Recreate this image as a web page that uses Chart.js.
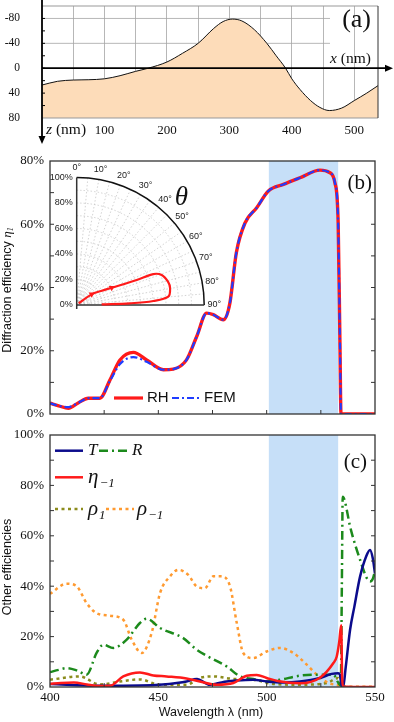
<!DOCTYPE html>
<html>
<head>
<meta charset="utf-8">
<script src="https://cdn.jsdelivr.net/npm/chart.js@4.4.0/dist/chart.umd.min.js"></script>
<style>
  html, body { margin: 0; padding: 0; background: #fff; }
  body { width: 394px; height: 722px; position: relative; overflow: hidden; }
  canvas { position: absolute; }
</style>
</head>
<body>
<canvas id="chartA" width="394" height="145" style="left:0;top:0"></canvas>
<canvas id="chartB" width="394" height="280" style="left:0;top:140px"></canvas>
<canvas id="chartInset" width="190" height="160" style="left:40px;top:160px"></canvas>
<canvas id="chartC" width="394" height="302" style="left:0;top:420px"></canvas>
<script>
// ---- panel (a): grating surface profile ----
const profX = [0, 25, 50, 75, 100, 125, 150, 170, 200, 225, 250, 275, 290, 305, 320, 340, 360, 375, 390, 400, 413, 430, 445, 460, 480, 500, 520, 538];
const profZ = [27, 21, 19, 18.5, 17, 12, 5, 0, -10, -24, -40, -64, -75, -79, -76, -62, -40, -20, 0, 17, 34, 52, 63, 68, 64, 52, 40, 28];
const profXTicks = [50, 100, 150, 200, 250, 300, 350, 400, 450, 500];
const profZTicks = [-80, -40, 0, 40, 80];
const profZGrid = [-80, -40];

// ---- panel (b): first order diffraction efficiency ----
const lamB = [400, 404, 408.5, 413, 417.7, 423, 427.7, 432.3, 438.5, 444.6, 452.3, 456.9, 463, 467.7, 472.3, 475.4, 480, 483, 486, 490, 495.4, 500.8, 507.7, 515.4, 524.6, 529.2, 531.5, 533, 533.8, 534.3, 540, 550];
const rhB  = [3.4, 2.6, 1.8, 3.5, 5.0, 5.0, 10.8, 17.1, 19.5, 17.1, 14, 14.2, 17.1, 24.5, 31.9, 31.4, 29.8, 35, 51, 60.4, 65.2, 70.5, 72.6, 74.7, 77.1, 76.3, 73.1, 60.4, 23.5, 0, 0, 0];
const femB = [3.4, 2.6, 2.2, 3.5, 5.0, 5.0, 10.5, 15.8, 18.0, 16.5, 14, 14.2, 17.1, 24.5, 31.9, 31.4, 29.8, 35, 51, 60.4, 65.2, 70.5, 72.6, 74.7, 77.1, 76.3, 73.1, 60.4, 23.5, 0, 0, 0];
const bandStart = 501;
const bandEnd = 533;

// ---- inset: efficiency vs diffraction angle ----
const polAng = [50, 54.5, 60, 63.7, 67.4, 68, 70.6, 76, 79.9, 84.8, 87, 88.2, 88.4];
const polEta = [2, 14.4, 22, 30.6, 51, 64.8, 70.7, 74, 74.4, 72.1, 60.2, 41.8, 19.6];
const polArrow = [0, 1, 0, 1, 0, 0, 0, 0, 0, 0, 0, 0, 0];

// ---- panel (c): other efficiencies ----
const lamT = [400, 423, 441.5, 452, 458.5, 463, 467.7, 473.8, 478, 481.5, 486, 493.8, 500, 508, 515.4, 524.6, 530, 533, 533.8, 534.6, 535.4, 536.5, 538.5, 540.5, 543.1, 546, 547.7, 549, 550];
const valT = [1.2, 0.5, 0.6, 1.0, 1.6, 2.2, 3.2, 0.9, 1.6, 2.2, 2.6, 2.9, 2.2, 1.8, 2.2, 3.6, 5.2, 5.5, 4.9, 0.3, 0.5, 8, 22.7, 32, 43.8, 52, 54.4, 51, 45];
const lamR = [400, 404, 407.7, 412.3, 416.9, 421.5, 424.6, 429.2, 435.4, 441.5, 444.6, 450.8, 461.5, 467.7, 472.3, 481.5, 487.7, 493.8, 500, 506.2, 515.4, 524.6, 530.8, 533.1, 534.2, 534.7, 535.1, 536, 538.5, 541, 543.1, 546.2, 547.7, 549, 550];
const valR = [5.9, 6.8, 7.5, 6.6, 4.9, 13.5, 16.8, 15.5, 18.8, 25.4, 27.1, 23.4, 19.4, 14.8, 12.4, 8.2, 4.2, 3.2, 2.2, 2.9, 4.5, 4.9, 4.9, 1.6, 0.5, 40, 75.5, 74, 63.7, 56, 50.5, 43.2, 41.9, 43, 46];
const lamE = [400, 405, 411, 417, 422, 427.7, 433.8, 441.5, 447.7, 453.8, 463, 469.2, 476.9, 484.6, 490.8, 495.4, 500, 505, 515.4, 524.6, 530.8, 532.3, 533.5, 534.4, 534.8, 535.2, 540, 550];
const valE = [1.2, 1.6, 1.8, 1.0, 0.4, 0.5, 4.2, 5.8, 4.6, 4.2, 3.4, 2.2, 0.9, 1.6, 4.5, 4.8, 3.6, 2.4, 1.5, 3.7, 9.5, 12, 18, 24.5, 5, 0.2, 0, 0];
const lamP1 = [400, 413.8, 423, 432.3, 441.5, 450.8, 463, 469.2, 475.4, 484.6, 493.8, 503, 515.4, 527.7, 533.1, 534.6, 540, 550];
const valP1 = [2.9, 4.2, 1.0, 2.2, 3.0, 0.9, 0.9, 3.6, 4.2, 3.2, 2.9, 1.2, 0.9, 1.6, 3.6, 0.3, 0, 0];
const lamPm = [400, 407.7, 412.3, 416.9, 421.5, 427.7, 433.8, 437.7, 442.3, 446.9, 450.8, 455.4, 459.2, 463.8, 467.7, 471.5, 475.4, 479.2, 483.1, 486.2, 489.2, 493.8, 500, 506.2, 512.3, 518.5, 523.1, 528.5, 533.8, 535, 540, 550];
const valPm = [37, 41, 40, 33.3, 29.3, 28.3, 26.7, 18.8, 13.5, 21.4, 37.3, 43.9, 46.5, 44.5, 39.9, 39.2, 43.9, 43.9, 39.9, 25.4, 13.5, 11.5, 14.1, 15.5, 13.5, 8.9, 4.9, 1.6, 0.5, 0, 0, 0];

const SERIF = '"Liberation Serif", "Times New Roman", serif';
const SANS = '"Liberation Sans", Arial, sans-serif';
const BAND = '#c6dff8';

const pts = (xs, ys) => xs.map((x, i) => ({ x: x, y: ys[i] }));

// fixed axis sizes; drop the label overhang padding Chart.js adds
const fixWidth = w => s => { s.width = w; s.paddingTop = 0; s.paddingBottom = 0; };
const fixHeight = h => s => { s.height = h; s.paddingLeft = 0; s.paddingRight = 0; };

function series(xs, ys, color, width, dash) {
    return {
        data: pts(xs, ys),
        borderColor: color,
        borderWidth: width,
        borderDash: dash || [],
        pointRadius: 0,
        fill: false,
        cubicInterpolationMode: 'monotone'
    };
}

function legendLine(ctx, x1, x2, y, color, width, dash) {
    ctx.save();
    ctx.strokeStyle = color;
    ctx.lineWidth = width;
    ctx.setLineDash(dash || []);
    ctx.beginPath();
    ctx.moveTo(x1, y);
    ctx.lineTo(x2, y);
    ctx.stroke();
    ctx.restore();
}

// italic symbol with an optional subscript, returns end x
function symText(ctx, x, y, sym, sub, size) {
    ctx.font = 'italic ' + size + 'px ' + SERIF;
    ctx.fillText(sym, x, y);
    let w = ctx.measureText(sym).width;
    if (sub) {
        ctx.font = 'italic ' + Math.round(size * 0.6) + 'px ' + SERIF;
        ctx.fillText(sub, x + w + 1, y + size * 0.3);
        w += ctx.measureText(sub).width + 1;
    }
    return x + w;
}

// rotated y-axis title made of parts [text, font, dy]
function yTitle(ctx, cx, cy, parts) {
    ctx.save();
    ctx.translate(cx, cy);
    ctx.rotate(-Math.PI / 2);
    ctx.fillStyle = '#111';
    ctx.textBaseline = 'middle';
    ctx.textAlign = 'left';
    let total = 0;
    parts.forEach(p => { ctx.font = p[1]; total += ctx.measureText(p[0]).width; });
    let x = -total / 2;
    parts.forEach(p => {
        ctx.font = p[1];
        ctx.fillText(p[0], x, p[2]);
        x += ctx.measureText(p[0]).width;
    });
    ctx.restore();
}

// shaded band + boxed frame with inward ticks, used by panels (b) and (c)
function framePlugin(xStep, yStep, tag) {
    return {
        id: 'frame',
        beforeDatasetsDraw(chart) {
            const { ctx, chartArea: a, scales: { x } } = chart;
            const x1 = x.getPixelForValue(bandStart);
            const x2 = x.getPixelForValue(bandEnd);
            ctx.save();
            ctx.fillStyle = BAND;
            ctx.fillRect(x1, a.top, x2 - x1, a.bottom - a.top);
            ctx.restore();
        },
        afterDraw(chart) {
            const { ctx, chartArea: a, scales: { x, y } } = chart;
            ctx.save();
            ctx.strokeStyle = '#333';
            ctx.lineWidth = 1.3;
            ctx.strokeRect(a.left, a.top, a.right - a.left, a.bottom - a.top);
            ctx.lineWidth = 1;
            ctx.beginPath();
            for (let v = x.min + xStep; v < x.max; v += xStep) {
                const px = x.getPixelForValue(v);
                ctx.moveTo(px, a.bottom);
                ctx.lineTo(px, a.bottom - 4);
            }
            for (let v = y.min + yStep; v < y.max; v += yStep) {
                const py = y.getPixelForValue(v);
                ctx.moveTo(a.left, py);
                ctx.lineTo(a.left + 4, py);
                ctx.moveTo(a.right, py);
                ctx.lineTo(a.right - 4, py);
            }
            ctx.stroke();
            ctx.fillStyle = '#111';
            ctx.font = '21px ' + SERIF;
            ctx.textAlign = 'right';
            ctx.textBaseline = 'middle';
            ctx.fillText(tag[0], tag[1], tag[2]);
            ctx.restore();
        }
    };
}

// ---------------- panel (a) ----------------
const profileAxes = {
    id: 'profileAxes',
    beforeDatasetsDraw(chart) {
        const { ctx, chartArea: a, scales: { y } } = chart;
        ctx.save();
        ctx.strokeStyle = '#a5a5a5';
        ctx.lineWidth = 0.8;
        ctx.beginPath();
        profZGrid.forEach(v => {
            const py = y.getPixelForValue(v);
            ctx.moveTo(a.left, py); ctx.lineTo(330, py);
        });
        ctx.stroke();
        ctx.restore();
    },
    afterDraw(chart) {
        const { ctx, chartArea: a, scales: { y } } = chart;
        const y0 = y.getPixelForValue(0);
        ctx.save();
        ctx.strokeStyle = '#999';
        ctx.lineWidth = 1;
        ctx.beginPath();
        ctx.moveTo(a.left, a.top); ctx.lineTo(a.right, a.top);
        ctx.moveTo(a.left, a.bottom); ctx.lineTo(a.right, a.bottom);
        ctx.stroke();
        ctx.strokeStyle = '#333';
        ctx.beginPath();
        ctx.moveTo(a.right, a.top); ctx.lineTo(a.right, a.bottom);
        ctx.stroke();
        // axes with arrows
        ctx.strokeStyle = '#000';
        ctx.fillStyle = '#000';
        ctx.lineWidth = 1.8;
        ctx.beginPath();
        ctx.moveTo(a.left, y0); ctx.lineTo(386, y0);
        ctx.moveTo(a.left, 0); ctx.lineTo(a.left, 137);
        ctx.stroke();
        ctx.beginPath();
        ctx.moveTo(385, y0 - 3.5); ctx.lineTo(393, y0); ctx.lineTo(385, y0 + 3.5); ctx.fill();
        ctx.beginPath();
        ctx.moveTo(a.left - 3.5, 136); ctx.lineTo(a.left, 144); ctx.lineTo(a.left + 3.5, 136); ctx.fill();
        // small ticks on the z axis
        ctx.lineWidth = 1;
        ctx.beginPath();
        for (let v = -80; v <= 60; v += 20) {
            const py = y.getPixelForValue(v);
            ctx.moveTo(a.left, py); ctx.lineTo(a.left + 3, py);
        }
        ctx.stroke();
        // labels
        ctx.fillStyle = '#111';
        ctx.textBaseline = 'middle';
        ctx.textAlign = 'left';
        let xe = symText(ctx, 330, 59, 'x', '', 15.5);
        ctx.font = '15.5px ' + SERIF;
        ctx.fillText(' (nm)', xe, 59);
        xe = symText(ctx, 46, 130, 'z', '', 15.5);
        ctx.font = '15.5px ' + SERIF;
        ctx.fillText(' (nm)', xe, 130);
        ctx.font = '26px ' + SERIF;
        ctx.textAlign = 'right';
        ctx.fillText('(a)', 371, 20);
        ctx.restore();
    }
};

new Chart(document.getElementById('chartA'), {
    type: 'line',
    data: {
        datasets: [{
            data: pts(profX, profZ),
            borderColor: '#111',
            borderWidth: 1,
            backgroundColor: '#fddcb9',
            fill: { value: 80 },
            pointRadius: 0,
            cubicInterpolationMode: 'monotone'
        }]
    },
    options: {
        responsive: false,
        animation: false,
        devicePixelRatio: 1,
        layout: { padding: { top: 6, right: 16, left: 0, bottom: 0 } },
        plugins: { legend: { display: false }, tooltip: { enabled: false } },
        scales: {
            x: {
                type: 'linear', min: 0, max: 538,
                afterFit: fixHeight(27),
                afterBuildTicks: s => { s.ticks = profXTicks.map(v => ({ value: v })); },
                ticks: {
                    autoSkip: false, maxRotation: 0, padding: 5, color: '#111',
                    font: { family: SERIF, size: 13 },
                    callback: v => (v % 100 === 0 ? v : '')
                },
                grid: { color: '#a5a5a5', lineWidth: 0.8, drawTicks: false },
                border: { display: false }
            },
            y: {
                type: 'linear', reverse: true, min: -100, max: 80,
                afterFit: fixWidth(42),
                afterBuildTicks: s => { s.ticks = profZTicks.map(v => ({ value: v })); },
                ticks: { padding: 22, color: '#111', font: { family: SERIF, size: 11.5 } },
                grid: { display: false, drawTicks: false },
                border: { display: false }
            }
        }
    },
    plugins: [profileAxes]
});

// ---------------- panel (b) ----------------
const legendB = {
    id: 'legendB',
    afterDraw(chart) {
        const ctx = chart.ctx;
        ctx.save();
        legendLine(ctx, 114, 143, 258, '#ff1a1a', 3.2);
        legendLine(ctx, 172, 200, 258, '#1f3cff', 2.2, [7, 3, 2, 3]);
        ctx.fillStyle = '#111';
        ctx.font = '15px ' + SANS;
        ctx.textBaseline = 'middle';
        ctx.fillText('RH', 147, 258);
        ctx.fillText('FEM', 204, 258);
        yTitle(ctx, 8, 150, [
            ['Diffraction efficiency ', '12.5px ' + SANS, 0],
            ['\u03b7', 'italic 13px ' + SERIF, 0],
            ['1', 'italic 8px ' + SERIF, 3]
        ]);
        ctx.restore();
    }
};

new Chart(document.getElementById('chartB'), {
    type: 'line',
    data: {
        datasets: [
            series(lamB, femB, '#1f3cff', 2.2, [7, 3, 2, 3]),
            series(lamB, rhB, '#ff1a1a', 3.4)
        ]
    },
    options: {
        responsive: false,
        animation: false,
        devicePixelRatio: 1,
        layout: { padding: { top: 21, right: 19, left: 0, bottom: 0 } },
        plugins: { legend: { display: false }, tooltip: { enabled: false } },
        scales: {
            x: {
                type: 'linear', min: 400, max: 550,
                afterFit: fixHeight(6),
                ticks: { display: false, stepSize: 50 },
                grid: { display: false },
                border: { display: false }
            },
            y: {
                type: 'linear', min: 0, max: 80,
                afterFit: fixWidth(50),
                ticks: {
                    stepSize: 20, padding: 6, color: '#111',
                    font: { family: SERIF, size: 13 },
                    callback: v => v + '%'
                },
                grid: { display: false, drawTicks: false },
                border: { display: false }
            }
        }
    },
    plugins: [framePlugin(25, 10, ['(b)', 372, 43]), legendB]
});

// ---------------- inset polar plot ----------------
const polarGrid = {
    id: 'polarGrid',
    beforeDatasetsDraw(chart) {
        const { ctx, scales: { x, y } } = chart;
        const cx = x.getPixelForValue(0), cy = y.getPixelForValue(0);
        const R = x.getPixelForValue(100) - cx;
        ctx.save();
        ctx.strokeStyle = '#c8c8c8';
        ctx.lineWidth = 0.8;
        ctx.setLineDash([1.5, 2]);
        for (let r = 10; r < 100; r += 10) {
            ctx.beginPath();
            ctx.arc(cx, cy, R * r / 100, -Math.PI / 2, 0);
            ctx.stroke();
        }
        for (let d = 5; d < 90; d += 5) {
            const t = d * Math.PI / 180;
            ctx.beginPath();
            ctx.moveTo(cx, cy);
            ctx.lineTo(cx + R * Math.sin(t), cy - R * Math.cos(t));
            ctx.stroke();
        }
        ctx.setLineDash([]);
        ctx.strokeStyle = '#111';
        ctx.lineWidth = 1.5;
        ctx.beginPath();
        ctx.arc(cx, cy, R, -Math.PI / 2, 0);
        ctx.stroke();
        ctx.strokeStyle = '#333';
        ctx.beginPath();
        ctx.moveTo(cx, cy + 4); ctx.lineTo(cx, cy - R);
        ctx.moveTo(cx, cy); ctx.lineTo(cx + R, cy);
        ctx.stroke();
        ctx.restore();
    },
    afterDraw(chart) {
        const { ctx, scales: { x, y } } = chart;
        const cx = x.getPixelForValue(0), cy = y.getPixelForValue(0);
        const R = x.getPixelForValue(100) - cx;
        ctx.save();
        ctx.fillStyle = '#222';
        ctx.font = '9px ' + SANS;
        ctx.textBaseline = 'middle';
        ctx.textAlign = 'right';
        for (let r = 0; r <= 100; r += 20) {
            ctx.fillText(r + '%', cx - 4, cy - R * r / 100);
        }
        ctx.textAlign = 'center';
        for (let d = 0; d <= 90; d += 10) {
            const t = d * Math.PI / 180;
            ctx.fillText(d + '\u00b0', cx + (R + 10) * Math.sin(t), cy - (R + 10) * Math.cos(t));
        }
        ctx.fillStyle = '#111';
        ctx.font = 'italic 27px ' + SERIF;
        ctx.fillText('\u03b8', 141.5, 38);
        ctx.restore();
    }
};

new Chart(document.getElementById('chartInset'), {
    type: 'scatter',
    data: {
        datasets: [{
            data: polEta.map((r, i) => ({
                x: r * Math.sin(polAng[i] * Math.PI / 180),
                y: r * Math.cos(polAng[i] * Math.PI / 180)
            })),
            showLine: true,
            borderColor: '#ff1a1a',
            borderWidth: 2.2,
            tension: 0.35,
            pointRadius: polArrow.map(m => (m ? 3.5 : 0)),
            pointStyle: 'triangle',
            rotation: 60,
            pointBackgroundColor: '#ff1a1a',
            pointBorderWidth: 0
        }]
    },
    options: {
        responsive: false,
        animation: false,
        devicePixelRatio: 1,
        clip: false,
        layout: { padding: { left: 36.7, right: 25.8, top: 17.5, bottom: 15 } },
        plugins: { legend: { display: false }, tooltip: { enabled: false } },
        scales: {
            x: { type: 'linear', min: 0, max: 100, display: false },
            y: { type: 'linear', min: 0, max: 100, display: false }
        }
    },
    plugins: [polarGrid]
});

// ---------------- panel (c) ----------------
const legendC = {
    id: 'legendC',
    afterDraw(chart) {
        const ctx = chart.ctx;
        ctx.save();
        ctx.fillStyle = '#111';
        ctx.textBaseline = 'middle';
        ctx.textAlign = 'left';
        legendLine(ctx, 55, 83, 30.7, '#0b0b8c', 2.5);
        symText(ctx, 88, 30.7, 'T', '', 17);
        legendLine(ctx, 99, 129, 30.7, '#1c8a1c', 2.5, [9, 4, 2, 4]);
        symText(ctx, 132, 30.7, 'R', '', 17);
        legendLine(ctx, 55, 83, 57.3, '#ff1a1a', 2.5);
        symText(ctx, 88, 57.3, '\u03b7', '\u22121', 21);
        legendLine(ctx, 55, 83, 89, '#8c8c1c', 2.5, [3, 3.5]);
        symText(ctx, 88, 89, '\u03c1', '1', 21);
        legendLine(ctx, 106, 134, 89, '#ff9a30', 2.5, [3, 3.5]);
        symText(ctx, 137, 89, '\u03c1', '\u22121', 21);
        yTitle(ctx, 8, 147, [['Other efficiencies', '12.5px ' + SANS, 0]]);
        ctx.font = '12.5px ' + SANS;
        ctx.textAlign = 'center';
        ctx.fillText('Wavelength \u03bb (nm)', 211, 293);
        ctx.restore();
    }
};

new Chart(document.getElementById('chartC'), {
    type: 'line',
    data: {
        datasets: [
            series(lamE, valE, '#ff1a1a', 2.5),
            series(lamT, valT, '#0b0b8c', 2.5),
            series(lamR, valR, '#1c8a1c', 2.5, [9, 4, 2, 4]),
            series(lamPm, valPm, '#ff9a30', 2.5, [3, 3.5]),
            series(lamP1, valP1, '#8c8c1c', 2.5, [3, 3.5])
        ]
    },
    options: {
        responsive: false,
        animation: false,
        devicePixelRatio: 1,
        layout: { padding: { top: 15, right: 19, left: 0, bottom: 0 } },
        plugins: { legend: { display: false }, tooltip: { enabled: false } },
        scales: {
            x: {
                type: 'linear', min: 400, max: 550,
                afterFit: fixHeight(35),
                ticks: {
                    stepSize: 50, padding: 3, maxRotation: 0, color: '#111',
                    font: { family: SERIF, size: 13 }
                },
                grid: { display: false, drawTicks: false },
                border: { display: false }
            },
            y: {
                type: 'linear', min: 0, max: 100,
                afterFit: fixWidth(50),
                ticks: {
                    stepSize: 20, padding: 6, color: '#111',
                    font: { family: SERIF, size: 13 },
                    callback: v => v + '%'
                },
                grid: { display: false, drawTicks: false },
                border: { display: false }
            }
        }
    },
    plugins: [framePlugin(25, 10, ['(c)', 367, 42]), legendC]
});
</script>
</body>
</html>
